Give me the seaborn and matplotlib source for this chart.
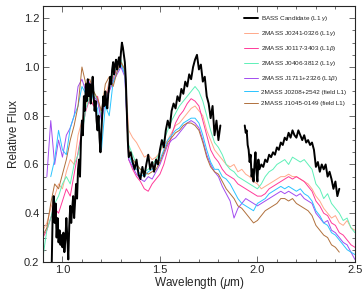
import numpy as np
import pandas as pd
import matplotlib as mpl
mpl.use('Agg')
import matplotlib.pyplot as plt
from matplotlib.ticker import MultipleLocator
import seaborn as sns


# BASS candidate spectrum (two segments, telluric gap in between)
bass_wl_1 = [0.945, 0.95, 0.955, 0.96, 0.965, 0.97, 0.975, 0.98, 0.985, 0.99, 0.995,
             1.00, 1.005, 1.01, 1.015, 1.02, 1.025, 1.03, 1.035, 1.04, 1.045, 1.05,
             1.055, 1.06, 1.065, 1.07, 1.075, 1.08, 1.085, 1.09, 1.095, 1.10, 1.105,
             1.11, 1.115, 1.12, 1.125, 1.13, 1.135, 1.14, 1.145, 1.15, 1.155, 1.16,
             1.165, 1.17, 1.175, 1.18, 1.185, 1.19, 1.195, 1.20, 1.205, 1.21, 1.215,
             1.22, 1.225, 1.23, 1.235, 1.24, 1.245, 1.25, 1.255, 1.26, 1.265, 1.27,
             1.275, 1.28, 1.285, 1.29, 1.295, 1.30, 1.305, 1.31, 1.315, 1.32, 1.325,
             1.33, 1.335, 1.34, 1.35, 1.36, 1.37, 1.38, 1.39, 1.40, 1.41, 1.42, 1.43,
             1.44, 1.45, 1.46, 1.47, 1.48, 1.49, 1.50, 1.51, 1.52, 1.53, 1.54, 1.55,
             1.56, 1.57, 1.58, 1.59, 1.60, 1.61, 1.62, 1.63, 1.64, 1.65, 1.66, 1.67,
             1.68, 1.69, 1.70, 1.71, 1.72, 1.73, 1.74, 1.75, 1.76, 1.77, 1.78, 1.79,
             1.80, 1.81]
bass_flux_1 = [0.19, 0.40, 0.47, 0.36, 0.44, 0.30, 0.38, 0.28, 0.33, 0.27, 0.31,
               0.26, 0.32, 0.24, 0.29, 0.38, 0.30, 0.21, 0.35, 0.43, 0.36, 0.42,
               0.47, 0.38, 0.45, 0.52, 0.46, 0.58, 0.62, 0.55, 0.70, 0.78, 0.72,
               0.88, 0.82, 0.93, 0.86, 0.95, 0.88, 0.93, 0.85, 0.91, 0.96, 0.88,
               0.82, 0.86, 0.78, 0.74, 0.80, 0.71, 0.65, 0.74, 0.82, 0.88, 0.84,
               0.90, 0.85, 0.83, 0.89, 0.92, 0.96, 0.93, 0.99, 1.02, 0.97, 1.01,
               1.03, 0.99, 1.02, 1.04, 1.00, 1.06, 1.10, 1.08, 1.05, 1.02, 0.95,
               0.82, 0.70, 0.63, 0.65, 0.61, 0.58, 0.62, 0.56, 0.54, 0.59, 0.55, 0.60,
               0.64, 0.58, 0.61, 0.57, 0.62, 0.60, 0.66, 0.70, 0.67, 0.74, 0.78, 0.75,
               0.82, 0.85, 0.83, 0.88, 0.86, 0.91, 0.89, 0.94, 0.92, 0.97, 0.95, 1.00,
               1.03, 1.05, 0.99, 1.01, 0.94, 0.96, 0.88, 0.85, 0.79, 0.84, 0.72, 0.78,
               0.70, 0.76]

bass_wl_2 = [1.935, 1.94, 1.945, 1.95, 1.955, 1.96, 1.965, 1.97, 1.975, 1.98, 1.985,
             1.99, 1.995, 2.00, 2.005, 2.01, 2.02, 2.03, 2.04, 2.05, 2.06, 2.07, 2.08,
             2.09, 2.10, 2.11, 2.12, 2.13, 2.14, 2.15, 2.16, 2.17, 2.18, 2.19, 2.20,
             2.21, 2.22, 2.23, 2.24, 2.25, 2.26, 2.27, 2.28, 2.29, 2.30, 2.31, 2.32,
             2.33, 2.34, 2.35, 2.36, 2.37, 2.38, 2.39, 2.40, 2.41, 2.42]
bass_flux_2 = [0.76, 0.73, 0.74, 0.68, 0.66, 0.61, 0.64, 0.55, 0.58, 0.53, 0.60,
               0.65, 0.57, 0.53, 0.62, 0.58, 0.60, 0.59, 0.62, 0.61, 0.64, 0.63, 0.65,
               0.64, 0.67, 0.66, 0.69, 0.68, 0.71, 0.70, 0.73, 0.71, 0.74, 0.72, 0.71,
               0.74, 0.72, 0.70, 0.72, 0.69, 0.70, 0.68, 0.69, 0.66, 0.59, 0.61, 0.57,
               0.60, 0.58, 0.60, 0.55, 0.57, 0.54, 0.50, 0.53, 0.47, 0.50]

# comparison spectra on a common 0.02 um grid
wl = [0.90, 0.92, 0.94, 0.96, 0.98, 1.00, 1.02, 1.04, 1.06, 1.08, 1.10, 1.12, 1.14,
      1.16, 1.18, 1.20, 1.22, 1.24, 1.26, 1.28, 1.30, 1.32, 1.34, 1.36, 1.38, 1.40,
      1.42, 1.44, 1.46, 1.48, 1.50, 1.52, 1.54, 1.56, 1.58, 1.60, 1.62, 1.64, 1.66,
      1.68, 1.70, 1.72, 1.74, 1.76, 1.78, 1.80, 1.82, 1.84, 1.86, 1.88, 1.90, 1.92,
      1.94, 1.96, 1.98, 2.00, 2.02, 2.04, 2.06, 2.08, 2.10, 2.12, 2.14, 2.16, 2.18,
      2.20, 2.22, 2.24, 2.26, 2.28, 2.30, 2.32, 2.34, 2.36, 2.38, 2.40, 2.42, 2.44,
      2.46, 2.48, 2.50]

j0241 = [0.33, 0.36, 0.42, 0.47, 0.52, 0.50, 0.57, 0.62, 0.60, 0.72, 0.78, 0.85, 0.88,
         0.84, 0.87, 0.80, 0.88, 0.94, 0.96, 0.99, 1.02, 0.99, 0.74, 0.71, 0.69, 0.66,
         0.63, 0.64, 0.62, 0.63, 0.65, 0.68, 0.70, 0.73, 0.76, 0.77, 0.79, 0.81, 0.83,
         0.84, 0.82, 0.80, 0.74, 0.70, 0.66, 0.64, 0.62, 0.60, 0.59, 0.60, 0.57, 0.58,
         0.56, 0.55, 0.53, 0.52, 0.50, 0.51, 0.52, 0.53, 0.54, 0.55, 0.55, 0.56, 0.55,
         0.55, 0.54, 0.53, 0.52, 0.50, 0.47, 0.45, 0.42, 0.40, 0.38, 0.39, 0.36, 0.35,
         0.37, 0.34, 0.33]
j0117 = [0.30, 0.33, 0.38, 0.42, 0.40, 0.45, 0.50, 0.47, 0.56, 0.65, 0.74, 0.82, 0.87,
         0.84, 0.88, 0.80, 0.86, 0.92, 0.95, 1.00, 1.02, 0.97, 0.62, 0.58, 0.55, 0.53,
         0.50, 0.49, 0.52, 0.54, 0.56, 0.60, 0.66, 0.72, 0.77, 0.80, 0.82, 0.85, 0.87,
         0.86, 0.84, 0.78, 0.72, 0.66, 0.63, 0.61, 0.58, 0.56, 0.55, 0.54, 0.52, 0.51,
         0.50, 0.49, 0.48, 0.47, 0.47, 0.48, 0.50, 0.51, 0.52, 0.53, 0.54, 0.55, 0.54,
         0.55, 0.54, 0.53, 0.51, 0.49, 0.45, 0.43, 0.40, 0.39, 0.36, 0.35, 0.32, 0.31,
         0.29, 0.27, 0.26]
j0406 = [0.22, 0.33, 0.38, 0.44, 0.47, 0.52, 0.55, 0.52, 0.60, 0.64, 0.72, 0.83, 0.88,
         0.90, 0.86, 0.80, 0.87, 0.90, 0.97, 1.00, 1.03, 0.98, 0.68, 0.64, 0.60, 0.58,
         0.57, 0.58, 0.60, 0.62, 0.65, 0.70, 0.74, 0.78, 0.81, 0.84, 0.86, 0.88, 0.90,
         0.92, 0.90, 0.86, 0.80, 0.74, 0.69, 0.67, 0.64, 0.60, 0.58, 0.57, 0.55, 0.54,
         0.53, 0.52, 0.51, 0.50, 0.52, 0.55, 0.57, 0.58, 0.60, 0.61, 0.62, 0.60, 0.63,
         0.62, 0.61, 0.62, 0.60, 0.58, 0.52, 0.50, 0.46, 0.48, 0.44, 0.42, 0.40, 0.37,
         0.38, 0.34, 0.32]
j1711 = [np.nan, 0.55, 0.78, 0.60, 0.70, 0.63, 0.72, 0.75, 0.80, 0.92, 0.95, 0.90, 0.94,
         0.88, 0.86, 0.78, 0.86, 0.90, 0.94, 0.97, 1.00, 0.96, 0.62, 0.59, 0.56, 0.54,
         0.53, 0.55, 0.54, 0.57, 0.60, 0.64, 0.68, 0.70, 0.71, 0.73, 0.75, 0.77, 0.78,
         0.77, 0.75, 0.70, 0.64, 0.60, 0.57, 0.55, 0.51, 0.48, 0.45, 0.38, 0.42, 0.44,
         0.46, 0.45, 0.44, 0.43, 0.44, 0.45, 0.46, 0.47, 0.48, 0.49, 0.48, 0.49, 0.48,
         0.47, 0.48, 0.46, 0.45, 0.44, 0.40, 0.38, 0.36, 0.37, 0.33, 0.32, 0.30, 0.28,
         0.27, 0.24, 0.21]
j0208 = [np.nan, np.nan, 0.55, 0.62, 0.74, 0.66, 0.64, 0.75, 0.80, 0.84, 0.92, 0.89, 0.93,
         0.86, 0.83, 0.66, 0.84, 0.80, 0.94, 0.98, 1.01, 0.97, 0.64, 0.60, 0.58, 0.56,
         0.55, 0.57, 0.58, 0.60, 0.62, 0.66, 0.70, 0.72, 0.74, 0.75, 0.77, 0.78, 0.79,
         0.79, 0.77, 0.72, 0.66, 0.61, 0.58, 0.58, 0.55, 0.54, 0.52, 0.49, 0.46, 0.44,
         0.43, 0.42, 0.41, 0.44, 0.45, 0.46, 0.48, 0.49, 0.50, 0.51, 0.50, 0.51, 0.50,
         0.49, 0.50, 0.48, 0.47, 0.45, 0.41, 0.39, 0.36, 0.35, 0.32, 0.31, 0.29, 0.27,
         0.25, 0.24, 0.23]
j1045 = [0.31, 0.34, 0.44, 0.52, 0.50, 0.56, 0.62, 0.70, 0.76, 0.84, 1.00, 0.93, 0.95,
         0.90, 0.87, 0.82, 0.93, 0.96, 0.92, 0.98, 1.02, 0.99, 0.66, 0.62, 0.60, 0.58,
         0.57, 0.56, 0.57, 0.58, 0.61, 0.65, 0.69, 0.71, 0.73, 0.74, 0.76, 0.77, 0.77,
         0.76, 0.74, 0.69, 0.63, 0.59, 0.57, 0.56, 0.53, 0.50, 0.48, 0.46, 0.43, 0.42,
         0.40, 0.38, 0.36, 0.37, 0.39, 0.41, 0.42, 0.43, 0.44, 0.46, 0.46, 0.45, 0.46,
         0.44, 0.43, 0.42, 0.41, 0.39, 0.35, 0.33, 0.31, 0.30, 0.27, 0.26, 0.24, np.nan,
         np.nan, np.nan, np.nan]

labels = ['2MASS J0241-0326 (L1$\\gamma$)', '2MASS J0117-3403 (L1$\\beta$)',
          '2MASS J0406-3812 (L1$\\gamma$)', '2MASS J1711+2326 (L1$\\beta$)',
          '2MASS J0208+2542 (field L1)', '2MASS J1045-0149 (field L1)']
colors = ['#ffa98a', '#ff3a9a', '#5ff0b8', '#a24cf0', '#2ac4ff', '#b0703c']


def main():
    sns.set_style('ticks')
    plt.rcParams['font.family'] = ['Liberation Sans', 'DejaVu Sans']
    plt.rcParams['mathtext.fontset'] = 'custom'
    plt.rcParams['mathtext.it'] = 'Liberation Sans:italic'
    plt.rcParams['mathtext.rm'] = 'Liberation Sans'

    fig = plt.figure(figsize=(3.64, 2.91), dpi=100)
    ax = fig.add_axes([0.118, 0.100, 0.857, 0.879])

    # BASS candidate, thick black
    sns.lineplot(x=bass_wl_1, y=bass_flux_1, ax=ax, color='black', lw=1.4,
                 label='BASS Candidate (L1 $\\gamma$)', zorder=5, sort=False)
    sns.lineplot(x=bass_wl_2, y=bass_flux_2, ax=ax, color='black', lw=1.4,
                 zorder=5, sort=False, legend=False)

    # comparison objects
    for flux, label, color in zip([j0241, j0117, j0406, j1711, j0208, j1045], labels, colors):
        df = pd.DataFrame({'wl': wl, 'flux': flux}).dropna()
        sns.lineplot(data=df, x='wl', y='flux', ax=ax, color=color, lw=0.7,
                     label=label, sort=False)

    ax.set_xlim(0.9, 2.5)
    ax.set_ylim(0.2, 1.25)
    ax.xaxis.set_major_locator(MultipleLocator(0.5))
    ax.xaxis.set_minor_locator(MultipleLocator(0.1))
    ax.yaxis.set_major_locator(MultipleLocator(0.2))
    ax.yaxis.set_minor_locator(MultipleLocator(0.05))
    ax.tick_params(which='both', direction='in', top=True, right=True, labelsize=8,
                   width=0.6, color='#555555', pad=2.5)
    ax.tick_params(which='major', length=4)
    ax.tick_params(which='minor', length=2)
    for s in ax.spines.values():
        s.set_linewidth(0.8)

    ax.set_xlabel('Wavelength ($\\mu$m)', fontsize=8.5, labelpad=0)
    ax.set_ylabel('Relative Flux', fontsize=8.5, labelpad=3)

    ax.legend(loc='upper right', bbox_to_anchor=(0.985, 0.985), frameon=False,
              fontsize=4.6, handlelength=2.2, labelspacing=0.95, handletextpad=0.5,
              borderaxespad=0.2)

    plt.savefig('out.png', dpi=100)
    plt.clf()


if __name__ == '__main__':
    main()
